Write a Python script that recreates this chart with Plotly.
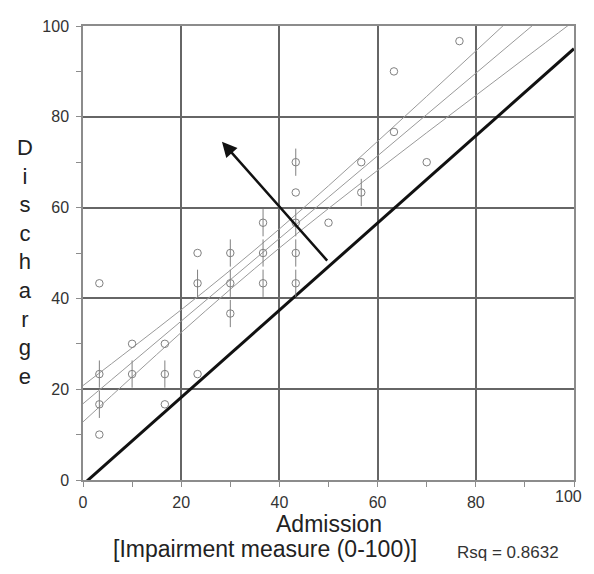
import plotly.graph_objects as go

# ---- data ----
admission = [3.33, 3.33, 3.33, 3.33, 10, 10, 16.67, 16.67, 16.67,
             23.33, 23.33, 23.33, 30, 30, 30, 36.67, 36.67, 36.67,
             43.33, 43.33, 43.33, 43.33, 43.33, 50, 56.67, 56.67,
             63.33, 63.33, 70, 76.67]
discharge = [43.33, 23.33, 16.67, 10, 30, 23.33, 30, 23.33, 16.67,
             50, 43.33, 23.33, 50, 43.33, 36.67, 56.67, 50, 43.33,
             70, 63.33, 56.67, 50, 43.33, 56.67, 70, 63.33,
             90, 76.67, 70, 96.67]
cases = [1, 2, 2, 1, 1, 2, 1, 2, 1,
         1, 2, 1, 2, 3, 2, 2, 3, 2,
         2, 1, 2, 2, 2, 1, 1, 2,
         1, 1, 1, 1]

fit_x = [0, 10, 20, 30, 40, 50, 60, 70, 80, 90, 100]
fit_mid = [16.8, 25.9, 35.0, 44.1, 53.2, 62.3, 71.4, 80.5, 89.6, 98.7, 107.8]
fit_upper = [20.8, 29.1, 37.5, 46.2, 55.3, 64.8, 74.6, 84.5, 94.5, 104.5, 114.5]
fit_lower = [12.8, 22.7, 32.5, 42.0, 51.1, 59.8, 68.2, 76.5, 84.7, 92.9, 101.1]

ref_x = [0, 100]
ref_y = [-1, 95]

arrow_tail = (50, 48)
arrow_head = (28.3, 74.5)

x_ticks = [0, 20, 40, 60, 80, 100]
y_ticks = [0, 20, 40, 60, 80, 100]

rsq_text = "Rsq = 0.8632"

# ---- figure ----
FONT = "Liberation Sans, Arial, sans-serif"
GRID = "#666666"
AXIS = "#8c8c8c"
PT = "#808080"
TICKFONT = dict(family=FONT, size=16, color="#333333")

fig = go.Figure()

for ys in (fit_upper, fit_mid, fit_lower):
    fig.add_trace(go.Scatter(x=fit_x, y=ys, mode="lines",
                             line=dict(color="#9a9a9a", width=1, shape="spline"),
                             hoverinfo="skip", showlegend=False))

fig.add_trace(go.Scatter(x=ref_x, y=ref_y, mode="lines",
                         line=dict(color="#111111", width=3),
                         showlegend=False))

petal = [3 if c > 1 else 0 for c in cases]
fig.add_trace(go.Scatter(
    x=admission, y=discharge, mode="markers",
    marker=dict(symbol="circle-open", size=7.5, color=PT, line=dict(width=1, color=PT)),
    error_y=dict(type="data", array=petal, visible=True, width=0, thickness=1, color=PT),
    showlegend=False))

fig.add_annotation(x=arrow_head[0], y=arrow_head[1], ax=arrow_tail[0], ay=arrow_tail[1],
                   xref="x", yref="y", axref="x", ayref="y", text="",
                   showarrow=True, arrowhead=2, arrowsize=1.2, arrowwidth=2.5,
                   arrowcolor="#111111")

fig.add_annotation(text="Admission", xref="paper", yref="paper", x=0.5, y=-0.0962,
                   xanchor="center", yanchor="middle", showarrow=False,
                   font=dict(family=FONT, size=23, color="#222222"))
fig.add_annotation(text="[Impairment measure (0-100)]", xref="paper", yref="paper",
                   x=0.058, y=-0.153, xanchor="left", yanchor="middle", showarrow=False,
                   font=dict(family=FONT, size=23, color="#222222"))
fig.add_annotation(text=rsq_text, xref="paper", yref="paper",
                   x=0.757, y=-0.1596, xanchor="left", yanchor="middle", showarrow=False,
                   font=dict(family=FONT, size=17, color="#333333"))
fig.add_annotation(text="<br>".join(list("Discharge")), xref="paper", yref="paper",
                   x=-0.118, y=0.481, xanchor="center", yanchor="middle", showarrow=False,
                   font=dict(family=FONT, size=22, color="#222222"))

# last x tick label would be cut at the page edge: place it right-aligned at the edge
fig.add_annotation(text=str(x_ticks[-1]), xref="x", yref="paper", x=x_ticks[-1], y=0,
                   xanchor="right", yanchor="top", xshift=10, yshift=-6,
                   showarrow=False, font=TICKFONT)

axis_common = dict(
    range=[0, 100], showgrid=True, gridcolor=GRID, gridwidth=1.5,
    showline=True, linecolor=AXIS, linewidth=1.5, mirror=True, zeroline=False,
    ticks="outside", ticklen=5, tickcolor=AXIS, tickwidth=1.2,
    minor=dict(dtick=10, ticks="outside", ticklen=5, tickcolor=AXIS, showgrid=False),
    tickfont=TICKFONT,
)
fig.update_xaxes(**axis_common, tickvals=x_ticks,
                 ticktext=[str(v) for v in x_ticks[:-1]] + [""], ticklabelstandoff=2)
fig.update_yaxes(**axis_common, tickvals=y_ticks, ticklabelstandoff=4)

fig.update_layout(width=578, height=558,
                  margin=dict(l=75, r=10, t=15, b=86),
                  paper_bgcolor="white", plot_bgcolor="white",
                  showlegend=False)

fig.write_html("out.html", config={"displayModeBar": False})
